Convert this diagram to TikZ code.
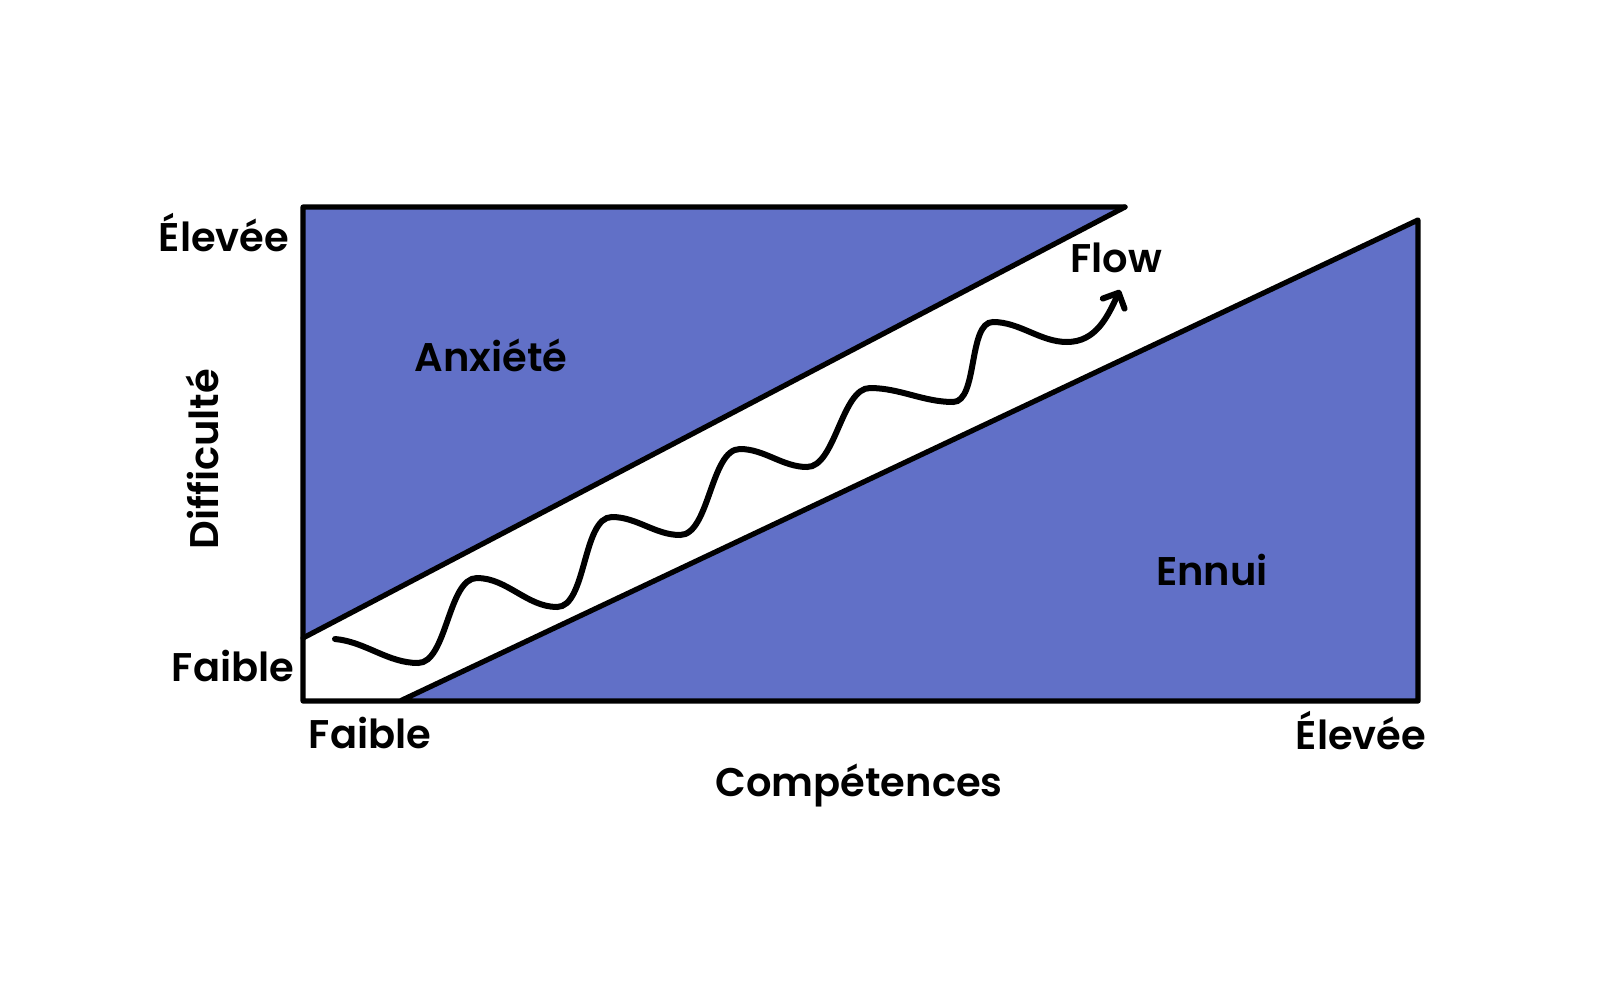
\documentclass[tikz,border=0pt]{standalone}
\usepackage{fontspec}
\setmainfont{Poppins}[UprightFont=* SemiBold]
\usetikzlibrary{arrows.meta}
\definecolor{zoneblue}{RGB}{97,112,199}
\tikzset{
  lbl/.style={anchor=base, inner sep=0pt, font=\fontsize{20pt}{24pt}\selectfont},
  border/.style={line width=2.6pt, line join=round, line cap=round},
  wave/.style={line width=3pt, line cap=round},
  up/.style={out=0,in=180,looseness=0.72},
  down/.style={out=0,in=180,looseness=0.9}
}
\begin{document}
\begin{tikzpicture}[x=0.5pt,y=-0.5pt]
\useasboundingbox (0,0) rectangle (1600,995);
% corners
\coordinate (tl) at (303,207);
\coordinate (tr) at (1125,207);
\coordinate (la) at (303,638);
\coordinate (bl) at (303,701);
\coordinate (lb) at (400,701);
\coordinate (br) at (1418,701);
\coordinate (rt) at (1418,220);
% zones
\fill[zoneblue] (tl) -- (tr) -- (la) -- cycle;
\fill[zoneblue] (lb) -- (rt) -- (br) -- cycle;
\draw[border] (tr) -- (tl) -- (bl) -- (br) -- (rt) -- (lb);
\draw[border] (tr) -- (la);
% wave
\coordinate (w0) at (335,639);
\coordinate (v1) at (418,663);
\coordinate (p1) at (477,578);
\coordinate (v2) at (557,607);
\coordinate (p2) at (612,517);
\coordinate (v3) at (680,535);
\coordinate (p3) at (740,449);
\coordinate (v4) at (807,467);
\coordinate (p4) at (870,388);
\coordinate (v5) at (953,402);
\coordinate (p5) at (993,322);
\coordinate (v6) at (1067,342);
\coordinate (we) at (1120,290);
\draw[wave, -{Straight Barb[round,length=6pt,width=12pt]}]
  (w0) to[out=-5,in=180,looseness=0.9] (v1) to[up] (p1)
  to[down] (v2) to[up] (p2)
  to[down] (v3) to[up] (p3)
  to[down] (v4) to[up] (p4)
  to[down] (v5) to[up] (p5)
  to[down] (v6) to[out=0,in=-115] (we);
% labels
\node[lbl] (yhigh) at (224,251) {Élevée};
\node[lbl] (ylow) at (233,681) {Faible};
\node[lbl, rotate=90] (ytitle) at (218,459) {Difficulté};
\node[lbl] (xlow) at (370,748) {Faible};
\node[lbl] (xhigh) at (1361,749) {Élevée};
\node[lbl] (xtitle) at (859,796) {Compétences};
\node[lbl] (anx) at (491,371) {Anxiété};
\node[lbl] (flow) at (1116,272) {Flow};
\node[lbl] (ennui) at (1212,585) {Ennui};
\end{tikzpicture}
\end{document}
